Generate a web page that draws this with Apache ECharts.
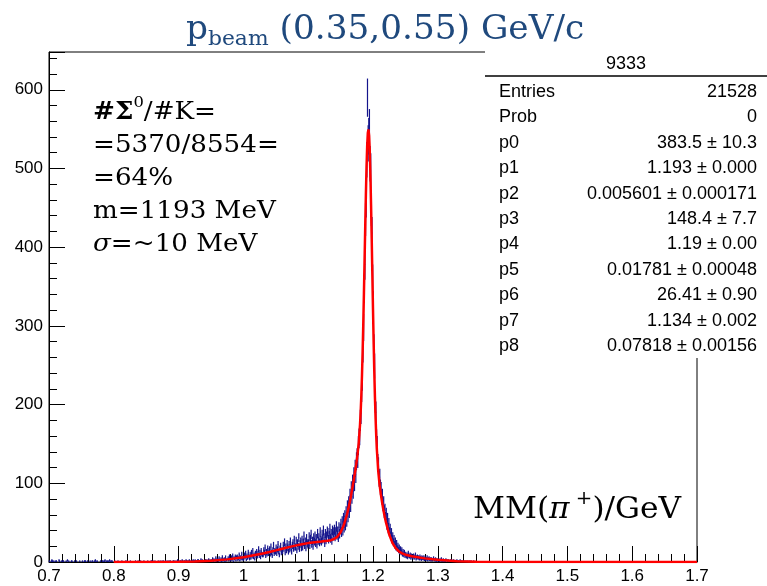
<!DOCTYPE html>
<html>
<head>
<meta charset="utf-8">
<script src="https://cdn.jsdelivr.net/npm/echarts@6/dist/echarts.min.js"></script>
<style>
  html, body { margin: 0; padding: 0; background: #fff; }
  #chart { width: 767px; height: 586px; }
</style>
</head>
<body>
<div id="chart"></div>
<script>
// Missing-mass spectrum MM(pi+), 1 MeV bins starting at 0.700 GeV
const histStart = 0.700;
const binWidth = 0.001;

// 0.700 - 0.949 GeV
const countsLow = [
  1,0,0,1,2,1,0,1,0,0, 1,1,0,0,0,2,1,0,0,1, 0,1,1,0,0,0,1,0,2,0, 1,0,0,0,1,1,0,0,0,1,
  0,0,1,0,0,0,0,1,0,0, 0,1,0,0,1,1,1,0,0,1, 0,0,0,1,0,0,1,1,0,0, 1,2,1,0,1,0,0,0,0,1,
  0,0,1,1,0,1,2,0,1,0, 1,1,0,2,1,0,1,1,0,0, 0,1,0,0,0,0,1,0,0,0, 0,0,1,0,0,0,0,0,1,0,
  1,0,0,0,0,1,0,0,0,0, 0,0,0,1,0,0,0,1,0,0, 0,1,0,0,0,0,1,0,0,0, 0,0,1,0,0,0,0,1,1,0,
  1,0,0,1,0,0,0,0,1,0, 0,1,0,0,1,0,1,0,0,1, 1,0,0,1,0,1,0,1,0,0, 0,1,1,0,1,0,0,1,2,1,
  1,0,1,1,0,2,1,0,1,1, 0,2,1,1,0,1,2,1,0,1, 1,1,2,0,1,2,1,1,0,2, 2,1,0,1,3,1,2,0,1,1,
  1,2,2,1,0,2,3,1,2,1
];

// 0.950 - 1.149 GeV
const countsRise = [
  2,0,4,1,3,0,2,5,1,3, 3,1,5,0,2,4,1,6,2,3, 4,1,6,2,3,0,5,2,7,3, 2,6,3,8,1,5,4,7,2,6,
  7,3,5,9,2,6,4,10,5,3, 4,9,6,11,3,8,5,12,7,4, 10,5,12,7,14,6,9,4,11,8, 13,7,11,16,8,12,6,14,10,9,
  9,15,12,18,8,13,10,17,11,14, 16,10,19,12,8,15,21,11,14,13, 18,11,16,22,13,9,17,20,12,15,
  14,21,17,25,12,19,15,23,18,13, 22,16,26,18,13,21,24,17,28,19, 19,27,15,24,20,31,17,23,26,18,
  28,19,25,33,21,26,18,30,24,22, 24,32,21,29,35,23,27,20,31,26, 33,24,30,22,36,27,31,25,38,28,
  26,35,29,40,31,24,36,28,33,39, 37,29,34,42,30,36,27,40,33,38, 41,32,38,45,34,39,31,44,36,42
];

// 1.150 - 1.249 GeV
const countsPeak = [
  48,38,51,40,55,44,58,47,63,52,
  70,58,75,64,84,72,93,83,101,90,
  110,100,119,111,128,133,131,148,157,161,
  180,189,218,233,270,298,348,378,435,459,
  511,590,532,541,552,506,497,448,418,359,
  326,273,249,204,190,156,148,126,122,106,
  108,95,92,82,84,73,75,64,66,56,
  61,48,55,43,49,38,42,33,37,29,
  32,25,29,22,26,19,23,17,20,15,
  18,13,16,12,15,10,13,9,12,8
];

// 1.250 - 1.359 GeV
const countsTail = [
  10,7,9,6,11,8,7,9,5,8, 7,6,8,5,7,9,4,6,7,5, 6,4,7,5,3,6,5,4,6,3, 5,3,4,6,2,4,5,3,4,2,
  4,2,3,5,3,2,4,1,3,2, 3,2,1,3,2,4,1,2,3,1, 2,1,3,0,2,1,2,0,1,2, 1,2,0,1,2,0,1,1,0,2,
  0,1,1,0,2,0,1,0,1,0, 1,0,0,1,0,0,1,0,0,1, 0,1,0,0,0,1,0,0,0,0
];

// Fitted curve (three gaussians), sampled points
const fitMass = [
  0.80, 0.85, 0.90, 0.925, 0.95, 0.975, 1.00, 1.03, 1.04, 1.05, 1.06, 1.07, 1.08, 1.09, 1.10, 1.11,
  1.12, 1.13, 1.135, 1.14, 1.145, 1.15, 1.155, 1.16, 1.162, 1.164, 1.166, 1.168, 1.170, 1.172,
  1.174, 1.176, 1.178, 1.180, 1.181, 1.182, 1.183, 1.184, 1.185, 1.186, 1.187, 1.188, 1.189,
  1.190, 1.191, 1.192, 1.193, 1.194, 1.195, 1.196, 1.197, 1.198, 1.199, 1.200, 1.201, 1.202,
  1.203, 1.204, 1.205, 1.206, 1.208, 1.210, 1.212, 1.214, 1.216, 1.218, 1.220, 1.225, 1.230,
  1.235, 1.240, 1.245, 1.250, 1.26, 1.28, 1.30, 1.33, 1.36, 1.40, 1.50, 1.70
];
const fitValue = [
  0.0, 0.04, 0.3, 0.74, 1.66, 3.34, 6.08, 10.9, 12.8, 14.8, 16.9, 18.9, 20.8, 22.5, 24.0, 25.2,
  26.0, 26.9, 27.7, 29.2, 32.2, 37.8, 46.9, 60.9, 67.8, 75.6, 84.0, 93.2, 102.8, 112.8,
  123.4, 135.7, 151.4, 174.9, 191.2, 211.9, 237.0, 267.2, 302.3, 341.4, 383.4, 425.8, 466.0,
  501.1, 528.2, 545.0, 549.7, 541.8, 522.0, 491.8, 453.7, 410.6, 365.4, 320.9, 279.2, 241.9,
  209.5, 182.5, 160.2, 142.3, 116.5, 99.3, 86.5, 75.8, 66.4, 57.9, 50.3, 34.9, 24.3,
  17.6, 13.4, 10.9, 9.3, 7.2, 4.6, 2.8, 1.1, 0.4, 0.1, 0.0, 0.0
];

// Axis labels
const yLabelValues = [0, 100, 200, 300, 400, 500, 600];

// Statistics box
const statTitle = '9333';
const statNames = ['Entries', 'Prob', 'p0', 'p1', 'p2', 'p3', 'p4', 'p5', 'p6', 'p7', 'p8'];
const statValues = ['21528', '0', '383.5 ± 10.3', '1.193 ± 0.000', '0.005601 ± 0.000171',
  '148.4 ± 7.7', '1.19 ± 0.00', '0.01781 ± 0.00048', '26.41 ± 0.90', '1.134 ± 0.002',
  '0.07818 ± 0.00156'];

const noteLines = [
  '{b|#Σ}{sup|0}{r|/#K=}',
  '{r|=5370/8554=}',
  '{r|=64%}',
  '{r|m=1193 MeV}',
  '{i|σ}{r|=~10 MeV}'
];

const counts = countsLow.concat(countsRise, countsPeak, countsTail);
const histData = counts.map((n, i) => [
  +(histStart + i * binWidth).toFixed(4),
  +(histStart + (i + 1) * binWidth).toFixed(4),
  n
]);
const fitData = fitMass.map((m, i) => [m, fitValue[i]]);

const histColor = '#14148c';
const serif = '"DejaVu Serif", serif';
const sans = '"Liberation Sans", Arial, sans-serif';

const chart = echarts.init(document.getElementById('chart'), null, { renderer: 'canvas' });

const graphics = [];
// title
graphics.push({
  type: 'text', x: 186, y: 10, scaleX: 1.04, z: 100,
  style: {
    text: '{m|p}{s|beam}{m| (0.35,0.55) GeV/c}',
    verticalAlign: 'top',
    rich: {
      m: { fontFamily: serif, fontSize: 33, lineHeight: 40, fill: '#1F497D' },
      s: { fontFamily: serif, fontSize: 21, lineHeight: 14, verticalAlign: 'bottom', fill: '#1F497D' }
    }
  }
});
// stats box
graphics.push({ type: 'rect', z: 100, shape: { x: 485, y: 51, width: 282, height: 307 }, style: { fill: '#fff' } });
graphics.push({ type: 'line', z: 101, shape: { x1: 485, y1: 76, x2: 767, y2: 76 }, style: { stroke: '#000', lineWidth: 1.5 } });
graphics.push({
  type: 'text', x: 626, y: 64, z: 101,
  style: { text: statTitle, fontFamily: sans, fontSize: 18, fill: '#000', align: 'center', verticalAlign: 'middle' }
});
statNames.forEach((name, k) => {
  const yy = 92 + k * 25.4;
  graphics.push({
    type: 'text', x: 499, y: yy, z: 101,
    style: { text: name, fontFamily: sans, fontSize: 18, fill: '#000', align: 'left', verticalAlign: 'middle' }
  });
  graphics.push({
    type: 'text', x: 757, y: yy, z: 101,
    style: { text: statValues[k], fontFamily: sans, fontSize: 18, fill: '#000', align: 'right', verticalAlign: 'middle' }
  });
});
// annotation
graphics.push({
  type: 'text', x: 93, y: 96, scaleX: 1.09, z: 100,
  style: {
    text: noteLines.join('\n'),
    verticalAlign: 'top',
    rich: {
      r: { fontFamily: serif, fontSize: 24, lineHeight: 33, fill: '#000' },
      b: { fontFamily: serif, fontSize: 24, lineHeight: 33, fontWeight: 'bold', fill: '#000' },
      i: { fontFamily: serif, fontSize: 24, lineHeight: 33, fontStyle: 'italic', fill: '#000' },
      sup: { fontFamily: serif, fontSize: 15, lineHeight: 22, verticalAlign: 'top', fill: '#000' }
    }
  }
});
// axis caption
graphics.push({
  type: 'text', x: 473, y: 490, scaleX: 1.04, z: 100,
  style: {
    text: '{r|MM(}{i|π}{sup| +}{r|)/GeV}',
    verticalAlign: 'top',
    rich: {
      r: { fontFamily: serif, fontSize: 30, lineHeight: 40, fill: '#000' },
      i: { fontFamily: serif, fontSize: 30, lineHeight: 40, fontStyle: 'italic', fill: '#000' },
      sup: { fontFamily: serif, fontSize: 19, lineHeight: 26, verticalAlign: 'top', fill: '#000' }
    }
  }
});

const option = {
  animation: false,
  backgroundColor: '#fff',
  grid: {
    left: 49, right: 70, top: 52, bottom: 24,
    show: true, borderColor: '#000', borderWidth: 1, backgroundColor: 'transparent',
    outerBoundsMode: 'none'
  },
  xAxis: {
    type: 'value', min: 0.7, max: 1.7, interval: 0.1,
    axisLine: { show: true, onZero: false, lineStyle: { color: '#000', width: 1 } },
    axisTick: { show: true, inside: true, length: 16, lineStyle: { color: '#000', width: 1 } },
    minorTick: { show: true, splitNumber: 5, length: 8, lineStyle: { color: '#000', width: 1 } },
    splitLine: { show: false },
    minorSplitLine: { show: false },
    axisLabel: { color: '#000', fontFamily: sans, fontSize: 17, margin: 6 }
  },
  yAxis: [
    {
      type: 'value', min: 0, max: 648, interval: 100, position: 'left',
      axisLine: { show: true, lineStyle: { color: '#000', width: 1 } },
      axisTick: { show: true, inside: true, length: 16, lineStyle: { color: '#000', width: 1 } },
      splitLine: { show: false },
      axisLabel: {
        color: '#000', fontFamily: sans, fontSize: 17, margin: 6,
        formatter: v => (yLabelValues.indexOf(v) >= 0 ? String(v) : '')
      }
    },
    {
      type: 'value', min: 0, max: 648, interval: 20, position: 'left',
      axisLine: { show: false },
      axisTick: { show: true, inside: true, length: 8, lineStyle: { color: '#000', width: 1 } },
      splitLine: { show: false },
      axisLabel: { show: false }
    }
  ],
  graphic: { elements: graphics },
  series: [
    {
      type: 'custom',
      name: 'data',
      xAxisIndex: 0, yAxisIndex: 0,
      data: histData,
      encode: { x: [0, 1], y: 2 },
      z: 2,
      renderItem: (params, api) => {
        const lo = api.value(0), hi = api.value(1), n = api.value(2);
        if (!(n > 0)) return null;
        const err = Math.sqrt(n);
        const mid = (lo + hi) / 2;
        const top = api.coord([mid, n + err]);
        const bot = api.coord([mid, Math.max(n - err, 0)]);
        const pl = api.coord([lo, n]);
        const pr = api.coord([hi, n]);
        const st = { stroke: histColor, lineWidth: 1.2 };
        return {
          type: 'group',
          children: [
            { type: 'line', shape: { x1: top[0], y1: top[1], x2: bot[0], y2: bot[1] }, style: st },
            { type: 'line', shape: { x1: pl[0], y1: pl[1], x2: pr[0], y2: pr[1] }, style: st }
          ]
        };
      }
    },
    {
      type: 'line',
      name: 'fit',
      xAxisIndex: 0, yAxisIndex: 0,
      data: fitData,
      showSymbol: false,
      smooth: false,
      z: 3,
      lineStyle: { color: '#ff0000', width: 2.5 }
    }
  ]
};

chart.setOption(option);
</script>
</body>
</html>
